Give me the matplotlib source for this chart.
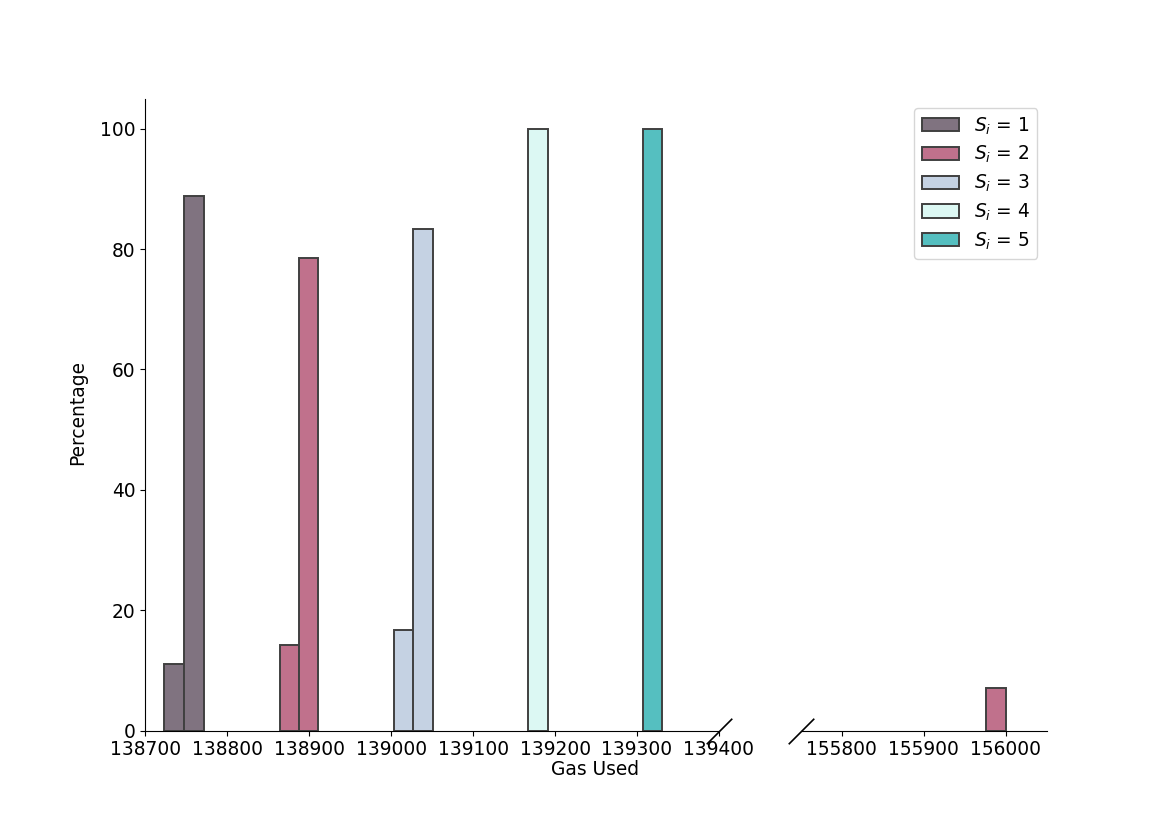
import matplotlib
matplotlib.use("Agg")
import matplotlib.pyplot as plt

# Данные: левые края бинов (Gas Used) и проценты для каждого S_i
bin_width = 24
s1_gas = [138723, 138747]
s1_pct = [11.11, 88.89]
s2_gas = [138864, 138887, 155976]
s2_pct = [14.29, 78.57, 7.14]
s3_gas = [139004, 139027]
s3_pct = [16.67, 83.33]
s4_gas = [139167]
s4_pct = [100.0]
s5_gas = [139307]
s5_pct = [100.0]

labels = ["$S_i$ = 1", "$S_i$ = 2", "$S_i$ = 3", "$S_i$ = 4", "$S_i$ = 5"]
colors = ["#807380", "#c0718c", "#c5d2e3", "#dcf8f3", "#55bfc0"]

series = [(s1_gas, s1_pct), (s2_gas, s2_pct), (s3_gas, s3_pct),
          (s4_gas, s4_pct), (s5_gas, s5_pct)]

fs = 13.4
plt.rcParams["font.size"] = fs

fig, (ax1, ax2) = plt.subplots(1, 2, sharey=True, figsize=(11.63, 8.21), dpi=100,
                               gridspec_kw={"width_ratios": [7, 3], "wspace": 0.2})

for (gas, pct), lab, col in zip(series, labels, colors):
    for ax in (ax1, ax2):
        ax.bar(gas, pct, width=bin_width, align="edge", color=col,
               edgecolor="#404040", linewidth=1.4, label=lab)

ax1.set_xlim(138700, 139400)
ax2.set_xlim(155750, 156050)
ax1.set_ylim(0, 105)
ax1.set_xticks([138700, 138800, 138900, 139000, 139100, 139200, 139300, 139400])
ax2.set_xticks([155800, 155900, 156000])
ax1.set_yticks([0, 20, 40, 60, 80, 100])

ax1.spines["top"].set_visible(False)
ax1.spines["right"].set_visible(False)
ax2.spines["top"].set_visible(False)
ax2.spines["right"].set_visible(False)
ax2.spines["left"].set_visible(False)
ax2.tick_params(axis="y", left=False, labelleft=False)

# Метки разрыва оси
brk = dict(marker=[(-1, -1), (1, 1)], markersize=18.4, linestyle="none",
           color="k", mec="k", mew=1.2, clip_on=False)
ax1.plot([1], [0], transform=ax1.transAxes, **brk)
ax2.plot([0], [0], transform=ax2.transAxes, **brk)

handles, labs = ax2.get_legend_handles_labels()
ax2.legend(handles, labs, loc="upper right", fontsize=fs, labelspacing=0.4)

fig.text(0.512, 0.056, "Gas Used", ha="center", va="baseline")
fig.text(0.067, 0.497, "Percentage", ha="center", va="center", rotation=90)

plt.savefig("out.png", dpi=100)
